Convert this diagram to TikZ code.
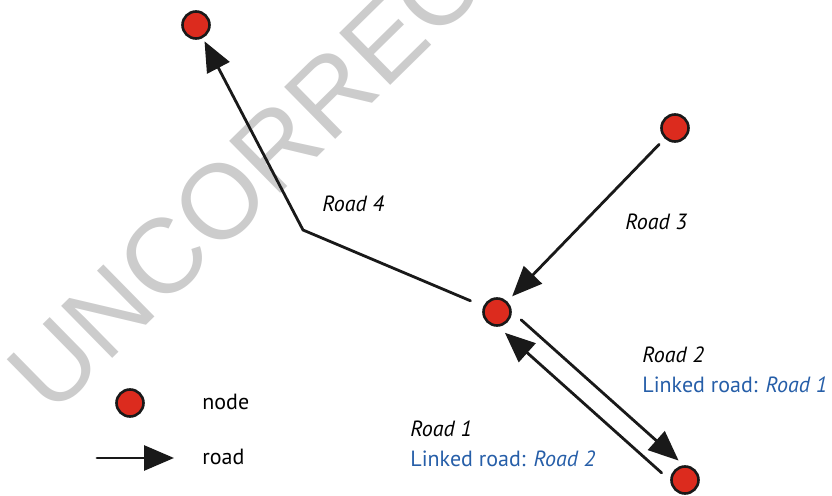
\documentclass[tikz,border=0pt]{standalone}
\usepackage{fontspec}
\setmainfont{PT Sans}
\newfontfamily\markfont{Liberation Sans}
\usetikzlibrary{arrows.meta}
\definecolor{nodered}{RGB}{220,43,30}
\definecolor{linkblue}{RGB}{38,94,168}
\begin{document}
\begin{tikzpicture}[x=0.5pt,y=-0.5pt, line join=round, line cap=round,
	dot/.style={circle,draw=black!90,fill=nodered,line width=1.3pt,minimum size=13.5pt,inner sep=0pt},
	road/.style={draw=black!90,line width=1.4pt,-{Triangle[length=15pt,width=12.5pt]}},
	lab/.style={inner sep=0pt,anchor=base west,font=\fontsize{11}{13}\selectfont}]
			\useasboundingbox (0,0) rectangle (832,496);
			\node[rotate=44.5,anchor=base west,inner sep=0pt,text=black!20,font=\markfont\fontsize{53}{53}\selectfont] (wm) at (52,418) {UNCORRECTED};
			\path 
			(196,25) node[dot] (A) {}
			(675,128) node[dot] (B) {}
			(497,312) node[dot] (C) {}
			(685,480) node[dot] (D) {}
			(130,403) node[dot] (L) {}
			(303,230) coordinate (K)
			(97,458) coordinate (P)
			(174,458) coordinate (Q)
			;
			\draw[road,shorten <=7pt,shorten >=1.8pt] (C)--(K)--(A);
			\draw[road,shorten <=4pt,shorten >=3.5pt] (B)--(C);
			\draw[road,shorten <=11.5pt,shorten >=9pt] ([shift={(7,-7.5)}]C.center)--([shift={(7,-7.5)}]D.center);
			\draw[road,shorten <=11pt,shorten >=10pt] ([shift={(-7,7.5)}]D.center)--([shift={(-7,7.5)}]C.center);
			\draw[road] (P)--(Q);
			\foreach \n/\x/\y/\t in {r4/322/212/\textit{Road 4},r3/625/230/\textit{Road 3},
				r2/642/363/\textit{Road 2},k2/642/393/\textcolor{linkblue}{Linked road: \textit{Road 1}},
				r1/410/437/\textit{Road 1},k1/410/467/\textcolor{linkblue}{Linked road: \textit{Road 2}},
				kn/202/410/node,kr/202/465/road}
			\node[lab] (\n) at (\x,\y) {\t};
			\end{tikzpicture}
\end{document}
